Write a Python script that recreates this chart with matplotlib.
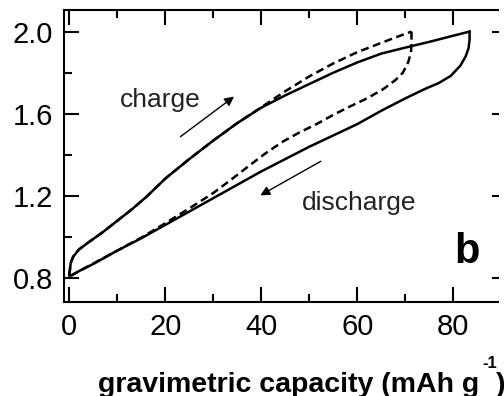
import matplotlib
matplotlib.use("Agg")
import matplotlib.pyplot as plt
from matplotlib.patches import Rectangle

plt.rcParams['font.family'] = ['Liberation Sans', 'DejaVu Sans']

# ---- data (gravimetric capacity mAh/g, potential V) ----
solid_charge_x = [0.0, 0.3, 0.8, 2, 4, 7, 10, 13, 16, 20, 25, 30, 35, 40, 45, 50, 55, 60, 65, 70, 75, 80, 83.4]
solid_charge_y = [0.815, 0.875, 0.905, 0.94, 0.975, 1.025, 1.08, 1.135, 1.195, 1.285, 1.38, 1.47, 1.555,
                  1.63, 1.69, 1.745, 1.80, 1.85, 1.893, 1.922, 1.95, 1.98, 2.0]
solid_dis_x = [83.4, 83.4, 83.2, 82.6, 81.5, 79.5, 77, 74, 70, 65, 60, 55, 50, 45, 40, 35, 30, 25, 20,
               15, 10, 5, 2, 0.5, 0.0]
solid_dis_y = [2.0, 1.96, 1.92, 1.88, 1.835, 1.785, 1.75, 1.72, 1.675, 1.615, 1.55, 1.495, 1.44, 1.38,
               1.32, 1.255, 1.19, 1.125, 1.06, 0.995, 0.935, 0.87, 0.835, 0.815, 0.815]
dash_charge_x = [0.0, 0.3, 0.8, 2, 4, 7, 10, 13, 16, 20, 25, 30, 35, 40, 45, 50, 55, 60, 65, 68, 71.3]
dash_charge_y = [0.815, 0.875, 0.905, 0.94, 0.975, 1.025, 1.08, 1.135, 1.195, 1.285, 1.38, 1.47, 1.555,
                 1.632, 1.71, 1.782, 1.845, 1.90, 1.945, 1.972, 2.0]
dash_dis_x = [71.3, 71.3, 71.2, 70.6, 69.5, 68.0, 65.4, 62, 58.4, 55, 51.5, 48, 44.5, 41, 37.6, 34, 30,
              25, 20, 15, 10, 5, 2, 0.5, 0.0]
dash_dis_y = [2.0, 1.95, 1.90, 1.85, 1.80, 1.765, 1.72, 1.675, 1.635, 1.595, 1.55, 1.51, 1.465, 1.41,
              1.35, 1.285, 1.215, 1.14, 1.068, 0.998, 0.935, 0.872, 0.835, 0.815, 0.815]

xticks_major = [0, 20, 40, 60, 80]
xticks_minor = [10, 30, 50, 70, 90]
yticks_major = [0.8, 1.2, 1.6, 2.0]
yticks_minor = [1.0, 1.4, 1.8]
ytick_labels = ["0.8", "1.2", "1.6", "2.0"]

W, H = 504, 396
fig = plt.figure(figsize=(W / 100, H / 100), dpi=100)
ax = fig.add_axes([64 / W, 1 - 301.6 / H, (507 - 64) / W, (301.6 - 10) / H])

lw = 1.8
dash = (0, (3.2, 1.8))
ax.plot(solid_charge_x, solid_charge_y, color='black', lw=lw, solid_joinstyle='round')
ax.plot(solid_dis_x, solid_dis_y, color='black', lw=lw, solid_joinstyle='round')
ax.plot(dash_charge_x, dash_charge_y, color='black', lw=lw, linestyle=dash)
ax.plot(dash_dis_x, dash_dis_y, color='black', lw=lw, linestyle=dash)

ax.set_xlim(-1.1, 91.2)
ax.set_ylim(0.687, 2.105)

ax.set_xticks(xticks_major)
ax.set_xticks(xticks_minor, minor=True)
ax.set_yticks(yticks_major)
ax.set_yticklabels(ytick_labels)
ax.set_yticks(yticks_minor, minor=True)
ax.tick_params(which='both', direction='in', top=True, right=True, width=1.5, labelsize=21)
ax.tick_params(which='major', length=11)
ax.tick_params(which='minor', length=6)
ax.tick_params(axis='x', pad=8)
ax.tick_params(axis='y', pad=8)
for s in ax.spines.values():
    s.set_linewidth(1.5)

# arrows
ax.annotate('', xy=(34.8, 1.692), xytext=(22.7, 1.481),
            arrowprops=dict(arrowstyle='-|>', color='black', lw=1.0, mutation_scale=14))
ax.annotate('', xy=(39.3, 1.197), xytext=(52.9, 1.376),
            arrowprops=dict(arrowstyle='-|>', color='black', lw=1.0, mutation_scale=14))

ax.text(10.5, 1.635, 'charge', fontsize=19, ha='left', va='baseline', color='#222222')
ax.text(48.4, 1.132, 'discharge', fontsize=19, ha='left', va='baseline', color='#222222')
ax.text(80.3, 0.874, 'b', fontsize=30, fontweight='bold', ha='left', va='baseline')

# x label (cut off at the right edge in the reference)
fig.text(98 / W, 4 / H, 'gravimetric capacity (mAh g', fontsize=20.5, fontweight='bold',
         ha='left', va='baseline')
fig.text(482 / W, 28 / H, '-1', fontsize=12, fontweight='bold', ha='left', va='baseline')
fig.text(496 / W, 4 / H, ')', fontsize=20.5, fontweight='bold', ha='left', va='baseline')

# white strip at the far right, as in the reference crop
fig.patches.append(Rectangle((499 / W, 1 - 305 / H), 10 / W, 305 / H, transform=fig.transFigure,
                             facecolor='white', edgecolor='none', zorder=10))

fig.savefig('out.png', dpi=100)
